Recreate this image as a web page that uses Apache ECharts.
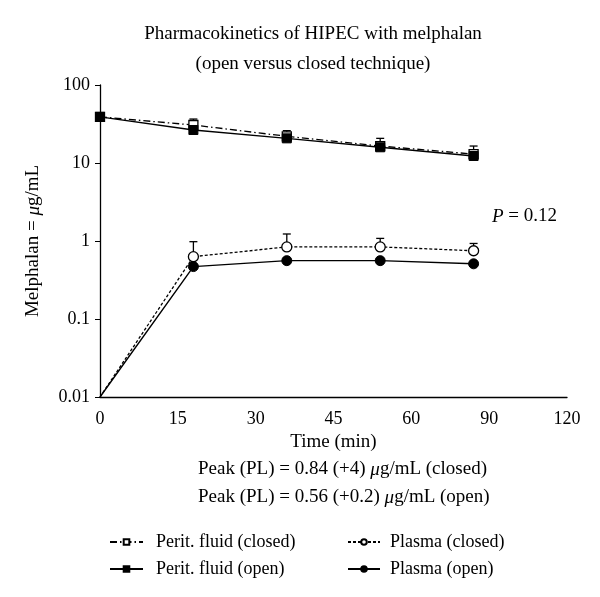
<!DOCTYPE html>
<html>
<head>
<meta charset="utf-8">
<script src="https://cdn.jsdelivr.net/npm/echarts@6/dist/echarts.min.js"></script>
<style>
  html, body { margin: 0; padding: 0; background: #fff; }
  #chart { width: 600px; height: 597px; }
</style>
</head>
<body>
<div id="chart"></div>
<script>
// sampling times (plotted position on the x axis) and axis labels
const times = [0, 18, 36, 54, 72];
const xTickLabels = ['0', '15', '30', '45', '60', '90', '120'];

// melphalan concentrations, µg/mL
const peritClosed = [39, 30.7, 22, 16.5, 13];
const peritClosedUpper = [null, 36.6, 26, 20.7, 16.5];
const peritOpen = [39, 26.5, 20.7, 15.9, 12.3];
const plasmaClosed = [0.01, 0.63, 0.84, 0.84, 0.75];
const plasmaClosedUpper = [null, 0.98, 1.23, 1.08, 0.93];
const plasmaOpen = [0.01, 0.47, 0.56, 0.56, 0.51];

const FONT = '"Liberation Serif", "DejaVu Serif", serif';
const FS = 19;

const pts = (vals, hideFirst) => vals.map((v, i) => {
    const d = { value: [times[i], v] };
    if (hideFirst && i === 0) d.symbol = 'none';
    return d;
});
const bars = (vals, upper) => upper
    .map((u, i) => u == null ? null : [times[i], vals[i], u])
    .filter(d => d);

const errRender = (params, api) => {
    const x = api.value(0);
    const p1 = api.coord([x, api.value(1)]);
    const p2 = api.coord([x, api.value(2)]);
    const st = { stroke: '#000', lineWidth: 1.3 };
    return {
        type: 'group',
        children: [
            { type: 'line', shape: { x1: p1[0], y1: p1[1], x2: p2[0], y2: p2[1] }, style: st },
            { type: 'line', shape: { x1: p2[0] - 4, y1: p2[1], x2: p2[0] + 4, y2: p2[1] }, style: st }
        ]
    };
};

const rich = {
    a: { fontFamily: FONT, fontSize: FS, fill: '#000', color: '#000' },
    i: { fontFamily: FONT, fontSize: FS, fill: '#000', color: '#000', fontStyle: 'italic' }
};

const chart = echarts.init(document.getElementById('chart'));
chart.setOption({
    backgroundColor: '#fff',
    animation: false,
    textStyle: { fontFamily: FONT, color: '#000' },
    title: [
        { text: 'Pharmacokinetics of HIPEC with melphalan', left: 308, top: 20, textAlign: 'center',
          textStyle: { fontFamily: FONT, fontSize: FS, fontWeight: 'normal', color: '#000' } },
        { text: '(open versus closed technique)', left: 308, top: 50, textAlign: 'center',
          textStyle: { fontFamily: FONT, fontSize: FS, fontWeight: 'normal', color: '#000' } }
    ],
    grid: { left: 100, right: 33, top: 85, bottom: 200 },
    xAxis: {
        type: 'value',
        min: 0,
        max: 90,
        interval: 15,
        name: 'Time (min)',
        nameLocation: 'middle',
        nameGap: 34,
        nameTextStyle: { fontFamily: FONT, fontSize: FS, color: '#000' },
        axisLine: { lineStyle: { color: '#000', width: 1.3 } },
        axisTick: { show: false },
        splitLine: { show: false },
        axisLabel: {
            fontFamily: FONT, fontSize: 18, color: '#000', margin: 13,
            formatter: v => xTickLabels[Math.round(v / 15)]
        }
    },
    yAxis: {
        type: 'log',
        logBase: 10,
        min: 0.01,
        max: 100,
        name: '{a|Melphalan = }{i|μ}{a|g/mL}',
        nameLocation: 'middle',
        nameGap: 57,
        nameTextStyle: { rich: rich },
        axisLine: { show: true, lineStyle: { color: '#000', width: 1.3 } },
        axisTick: { show: true, inside: false, length: 5, lineStyle: { color: '#000' } },
        minorTick: { show: false },
        splitLine: { show: false },
        axisLabel: { fontFamily: FONT, fontSize: 18, color: '#000', margin: 10,
            formatter: v => String(+v.toPrecision(3)) }
    },
    legend: [
        {
            data: ['Perit. fluid (closed)', 'Perit. fluid (open)'],
            orient: 'vertical',
            left: 104,
            top: 528,
            itemWidth: 33,
            itemHeight: 7,
            itemGap: 9,
            textStyle: { fontFamily: FONT, fontSize: 18, color: '#000', padding: [0, 0, 0, 8] }
        },
        {
            data: ['Plasma (closed)', 'Plasma (open)'],
            orient: 'vertical',
            left: 342,
            top: 528,
            itemWidth: 32,
            itemHeight: 7,
            itemGap: 9,
            textStyle: { fontFamily: FONT, fontSize: 18, color: '#000', padding: [0, 0, 0, 5] }
        }
    ],
    graphic: [
        { type: 'text', left: 492, top: 207,
          style: { text: '{i|P}{a| = 0.12}', rich: rich } },
        { type: 'text', left: 198, top: 460,
          style: { text: '{a|Peak (PL) = 0.84 (+4) }{i|μ}{a|g/mL (closed)}', rich: rich } },
        { type: 'text', left: 198, top: 488,
          style: { text: '{a|Peak (PL) = 0.56 (+0.2) }{i|μ}{a|g/mL (open)}', rich: rich } }
    ],
    series: [
        {
            type: 'custom', name: 'err1', renderItem: errRender, z: 1,
            encode: { x: 0, y: [1, 2] },
            data: bars(peritClosed, peritClosedUpper)
        },
        {
            type: 'custom', name: 'err2', renderItem: errRender, z: 1,
            encode: { x: 0, y: [1, 2] },
            data: bars(plasmaClosed, plasmaClosedUpper)
        },
        {
            name: 'Perit. fluid (closed)',
            type: 'line', z: 3,
            symbol: 'rect', symbolSize: 9,
            itemStyle: { color: '#fff', borderColor: '#000', borderWidth: 1.3 },
            lineStyle: { color: '#000', width: 1.3, type: [7, 3, 1.5, 3] },
            data: pts(peritClosed, false)
        },
        {
            name: 'Perit. fluid (open)',
            type: 'line', z: 4,
            symbol: 'rect', symbolSize: 9,
            itemStyle: { color: '#000', borderColor: '#000', borderWidth: 1 },
            lineStyle: { color: '#000', width: 1.4 },
            data: pts(peritOpen, false)
        },
        {
            name: 'Plasma (closed)',
            type: 'line', z: 3,
            symbol: 'circle', symbolSize: 10,
            itemStyle: { color: '#fff', borderColor: '#000', borderWidth: 1.3 },
            lineStyle: { color: '#000', width: 1.3, type: [3, 2] },
            data: pts(plasmaClosed, true)
        },
        {
            name: 'Plasma (open)',
            type: 'line', z: 4,
            symbol: 'circle', symbolSize: 10,
            itemStyle: { color: '#000', borderColor: '#000', borderWidth: 1 },
            lineStyle: { color: '#000', width: 1.4 },
            data: pts(plasmaOpen, true)
        }
    ]
});
</script>
</body>
</html>
